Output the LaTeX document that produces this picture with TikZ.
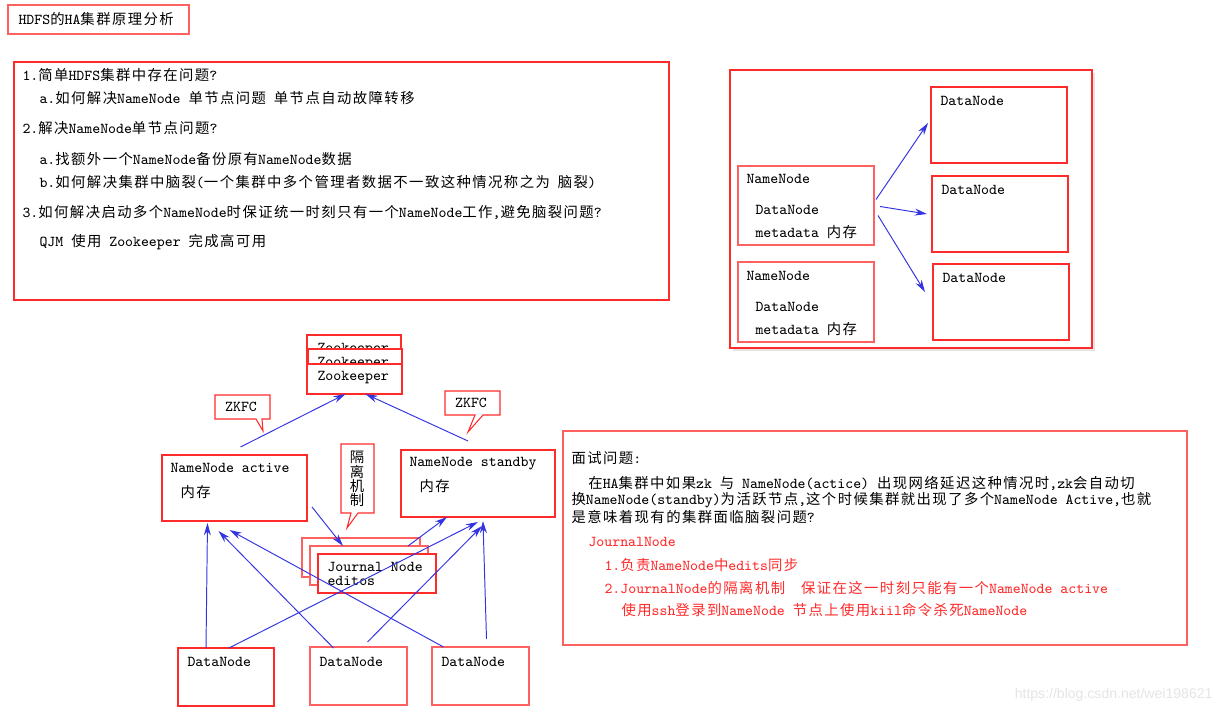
\documentclass[tikz,border=0pt]{standalone}
\usepackage{fontspec}
\setsansfont{Liberation Sans}
\newfontfamily\cjk[Scale=0.95, LetterSpace=10]{Noto Sans CJK SC}
\usetikzlibrary{arrows.meta, calc, fit}
\definecolor{cred}{HTML}{FF2A2A}
\definecolor{cpink}{HTML}{FF6060}
\definecolor{cblue}{HTML}{3434E0}
\definecolor{cmark}{HTML}{E4E4E4}
\newcommand{\zh}[1]{{\cjk #1}}
\tikzset{
  every picture/.style={font=\fontsize{8.6}{10}\ttfamily, line width=0.6pt},
  box/.style={draw=#1, fill=white, inner sep=0pt, outer sep=0pt},
  box/.default=cred,
  arrow/.style={-{Stealth[length=7pt, width=4pt]}, draw=cblue, line width=0.55pt},
  txt/.style={anchor=west, inner sep=0pt},
  redtxt/.style={txt, text=cred},
  para/.style={anchor=north west, inner sep=0pt, align=left, font=\fontsize{8.6}{7.9}\ttfamily},
  callout/.style={draw=cred, fill=white, line width=0.6pt},
}

\begin{document}
\begin{tikzpicture}[x=0.02cm, y=-0.02cm]
  \useasboundingbox (0,0) rectangle (1220,715);
  % title
  \node[box=cpink, fit={(8,5) (189,34)}] (title) {};
  \node[txt] (titletxt) at (18,19) {HDFS\zh{的}HA\zh{集群原理分析}};
  % questions
  \node[box, fit={(14,62) (669,300)}] (qbox) {};
  \node[txt] (q1) at (22,75) {1.\zh{简单}HDFS\zh{集群中存在问题}?};
  \node[txt] (q1a) at (39,98) {a.\zh{如何解决}NameNode \zh{单节点问题} \zh{单节点自动故障转移}};
  \node[txt] (q2) at (22,128) {2.\zh{解决}NameNode\zh{单节点问题}?};
  \node[txt] (q2a) at (39,159) {a.\zh{找额外一个}NameNode\zh{备份原有}NameNode\zh{数据}};
  \node[txt] (q2b) at (39,182) {b.\zh{如何解决集群中脑裂}(\zh{一个集群中多个管理者数据不一致这种情况称之为} \zh{脑裂})};
  \node[txt] (q3) at (22,212) {3.\zh{如何解决启动多个}NameNode\zh{时保证统一时刻只有一个}NameNode\zh{工作},\zh{避免脑裂问题}?};
  \node[txt] (q3a) at (39,242) {QJM \zh{使用} Zookeeper \zh{完成高可用}};
  % simple cluster
  \fill[black!10] (733,73) rectangle (1095,351);
  \node[box, fit={(730,70) (1092,348)}] (cluster) {};
  \node[box=cpink, fit={(738,166) (874,245)}] (nm1) {};
  \node[box=cpink, fit={(738,262) (874,342)}] (nm2) {};
  \node[box, fit={(931,87) (1067,163)}] (dA) {};
  \node[box, fit={(932,176) (1068,252)}] (dB) {};
  \node[box, fit={(933,264) (1069,340)}] (dC) {};
  \foreach \n/\y in {nm1/179, nm2/276} {
    \node[txt] (\n a) at (746,\y) {NameNode};
    \node[txt] (\n b) at (755,\y+31) {DataNode};
    \node[txt] (\n c) at (755,\y+53) {metadata \zh{内存}};
  }
  \foreach \n/\x/\y in {dA/940/101, dB/941/190, dC/942/278}
    \node[txt] (\n t) at (\x,\y) {DataNode};
  \draw[arrow] ($(nm1.east)+(2,-6)$) -- ($(dA.west)+(-3,-2)$);
  \draw[arrow] ($(nm1.east)+(6,1)$) -- ($(dB.west)+(-5,0)$);
  \draw[arrow] ($(nm1.east)+(4,10)$) -- ($(dC.west)+(-8,-10)$);
  % zookeeper
  \node[box, fit={(307,335) (401,365)}] (zk1) {};
  \node[txt] (zk1t) at (317,350) {Zookeeper};
  \node[box, fit={(308,349) (402,378)}] (zk2) {};
  \node[txt] (zk2t) at (317,364) {Zookeeper};
  \node[box, fit={(307,364) (402,394)}] (zk3) {};
  \node[txt] (zk3t) at (317,378) {Zookeeper};
  % callouts
  \draw[callout] (215,395) -- (270,395) -- (270,419) -- (262,419) -- (263,431) -- (256,419) -- (215,419) -- cycle;
  \node (zkfc1) at (241,407) {ZKFC};
  \draw[callout] (445,391) -- (500,391) -- (500,415) -- (483,415) -- (468,432) -- (475,415) -- (445,415) -- cycle;
  \node (zkfc2) at (471,403) {ZKFC};
  \draw[callout] (341,444) -- (374,444) -- (374,513) -- (358,513) -- (347,528) -- (351,513) -- (341,513) -- cycle;
  \foreach \c [count=\i] in {隔,离,机,制}
    \node[inner sep=0pt] (g\i) at (357,443+14.3*\i) {\zh{\c}};
  % namenodes
  \node[box, fit={(162,455) (307,521)}] (nna) {};
  \node[txt] (nnat) at (170,468) {NameNode active};
  \node[txt] (nnam) at (180,492) {\zh{内存}};
  \node[box, fit={(401,450) (555,517)}] (nns) {};
  \node[txt] (nnst) at (409,464) {NameNode standby};
  \node[txt] (nnsm) at (419,486) {\zh{内存}};
  % journal nodes
  \node[box=cpink, fit={(302,538) (420,577)}] (jn1) {};
  \node[box=cpink, fit={(310,546) (428,585)}] (jn2) {};
  \node[box, fit={(318,554) (436,593)}] (jn3) {};
  \node[para] (jnt) at (327,562) {Journal Node\\editos};
  % datanodes
  \node[box, fit={(178,648) (274,706)}] (dn1) {};
  \node[box=cpink, fit={(310,647) (407,705)}] (dn2) {};
  \node[box=cpink, fit={(432,647) (529,705)}] (dn3) {};
  \foreach \n/\x in {dn1/187, dn2/319, dn3/441}
    \node[txt] (\n t) at (\x,662) {DataNode};
  % connectors
  \draw[arrow] ($(nna.north)+(6,-8)$) -- ($(zk3.south)+(-9,0)$);
  \draw[arrow] ($(nns.north)+(-10,-9)$) -- ($(zk3.south)+(11,0)$);
  \draw[arrow] ($(nna.east)+(5,19)$) -- ($(jn2.north)+(-26,0)$);
  \draw[arrow] ($(jn2.north)+(39,0)$) -- ($(nns.south)+(-31,0)$);
  \draw[arrow] ($(dn1.north)+(-20,0)$) -- ($(nna.south)+(-27,2)$);
  \draw[arrow] ($(dn1.north)+(3,0)$) -- ($(nns.south)+(0,5)$);
  \draw[arrow] ($(dn2.north)+(-25,1)$) -- ($(nna.south)+(-16,10)$);
  \draw[arrow] ($(dn2.north)+(9,-5)$) -- ($(nns.south)+(4,9)$);
  \draw[arrow] ($(dn3.north)+(-37,0)$) -- ($(nna.south)+(-5,9)$);
  \draw[arrow] ($(dn3.north)+(6,-8)$) -- ($(nns.south)+(5,4)$);
  % interview question
  \node[box=cpink, fit={(563,431) (1187,645)}] (ibox) {};
  \node[txt] (i1) at (571,458) {\zh{面试问题}:};
  \node[para] (i2) at (571,476) {\hspace*{9.6pt}\zh{在}HA\zh{集群中如果}zk \zh{与} NameNode(actice) \zh{出现网络延迟这种情况时},zk\zh{会自动切}\\
    \zh{换}NameNode(standby)\zh{为活跃节点},\zh{这个时候集群就出现了多个}NameNode Active,\zh{也就}\\
    \zh{是意味着现有的集群面临脑裂问题}?};
  \node[redtxt] (r1) at (588,542) {JournalNode};
  \node[redtxt] (r2) at (604,565) {1.\zh{负责}NameNode\zh{中}edits\zh{同步}};
  \node[redtxt] (r3) at (604,588) {2.JournalNode\zh{的隔离机制}\ \ \zh{保证在这一时刻只能有一个}NameNode active};
  \node[redtxt] (r4) at (621,610) {\zh{使用}ssh\zh{登录到}NameNode \zh{节点上使用}kiil\zh{命令杀死}NameNode};
  % watermark
  \node[anchor=east, inner sep=0pt, text=cmark, font=\fontsize{8}{10}\sffamily] (mark) at (1213,695) {https://blog.csdn.net/wei198621};
\end{tikzpicture}
\end{document}
